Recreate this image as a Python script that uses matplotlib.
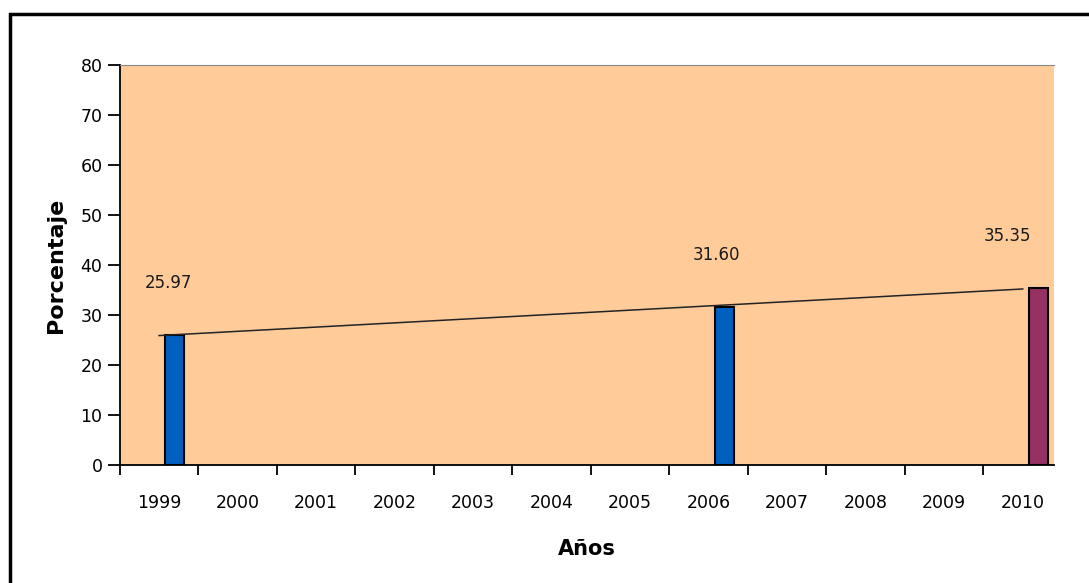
import numpy as np
import matplotlib
matplotlib.use("Agg")
import matplotlib.pyplot as plt
from matplotlib.patches import Rectangle

# ------------------------------------ data ------------------------------------
years = ["1999", "2000", "2001", "2002", "2003", "2004",
         "2005", "2006", "2007", "2008", "2009", "2010"]
bar_years = ["1999", "2006", "2010"]
bar_values = [25.97, 31.60, 35.35]
bar_labels = ["25.97", "31.60", "35.35"]
bar_colors = ["#0060C0", "#0060C0", "#953163"]
label_dx = [0.12, 0.10, -0.19]          # small shifts of value labels, as in the original

plt.rcParams['font.family'] = ['DejaVu Sans']

fig = plt.figure(figsize=(10.89, 5.83), dpi=100)
ax = fig.add_axes([0.110, 0.2024, 0.858, 0.686])
ax.set_facecolor("#FFCC99")

idx = np.array([years.index(y) for y in bar_years])
ax.bar(idx + 0.2, bar_values, width=0.24, color=bar_colors,
       edgecolor="black", linewidth=1.5, zorder=3)

# linear trend line through the three values
coef = np.polyfit(idx, bar_values, 1)
xs = np.array([0, len(years) - 1])
ax.plot(xs, np.polyval(coef, xs), color="#222222", linewidth=1.1, zorder=4)

for i, v, t, dx in zip(idx, bar_values, bar_labels, label_dx):
    ax.text(i + dx, v + 10.4, t, ha="center", va="center", fontsize=12, color="#1a1a1a")

ax.set_xlim(-0.5, 11.4)
ax.set_ylim(0, 80)
ax.set_yticks(range(0, 81, 10))
ax.set_xticks(range(len(years)))
ax.set_xticklabels(years)
ax.set_xticks(np.arange(-0.5, 11.5, 1), minor=True)
ax.tick_params(axis="x", which="major", length=0, pad=21, labelsize=12.5)
ax.tick_params(axis="x", which="minor", length=7, width=1.3, direction="out")
ax.tick_params(axis="y", length=8.5, width=1.3, direction="out", labelsize=12.5, pad=4)

ax.spines["right"].set_visible(False)
ax.spines["top"].set_color("#888888")
ax.spines["left"].set_linewidth(1.3)
ax.spines["bottom"].set_linewidth(1.3)

ax.set_ylabel("Porcentaje", fontsize=16, fontweight="bold", labelpad=10)
ax.set_xlabel("Años", fontsize=15, fontweight="bold", labelpad=19)

# outer frame of the figure
fig.patches.append(Rectangle((10 / 1089, -0.1), 1.2, 1.1 - 14 / 583,
                             transform=fig.transFigure, fill=False,
                             edgecolor="black", linewidth=2.5))

fig.savefig("out.png", dpi=100)
